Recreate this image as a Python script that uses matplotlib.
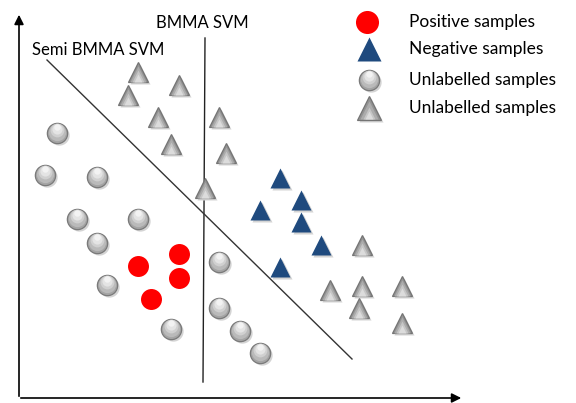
import numpy as np
import matplotlib
matplotlib.use('Agg')
import matplotlib.pyplot as plt

# marker centres in pixel units (y grows downward)
pos_x = [138, 179, 179, 151]
pos_y = [266, 254, 278, 299]

neg_x = [280, 301, 260, 301, 321, 280]
neg_y = [178, 200, 210, 222, 245, 267]

unl_circ_x = [57, 45, 97, 77, 138, 97, 107, 171, 219, 219, 240, 260]
unl_circ_y = [133, 175, 177, 219, 219, 243, 285, 329, 262, 308, 331, 353]

unl_tri_x = [138, 128, 179, 158, 171, 219, 226, 205, 362, 330, 362, 359, 402, 402]
unl_tri_y = [72, 95, 85, 117, 144, 117, 153, 188, 245, 290, 286, 308, 286, 323]

# separating lines (end points)
bmma_x = [205, 203]
bmma_y = [38, 382]
semi_x = [47, 352]
semi_y = [60, 359]

legend_labels = ['Positive samples', 'Negative samples',
                 'Unlabelled samples', 'Unlabelled samples']
legend_y = [22, 49, 80, 108]

plt.rcParams['font.family'] = ['Lato', 'DejaVu Sans']

fig = plt.figure(figsize=(5.76, 4.03), dpi=100)
ax = fig.add_axes([0, 0, 1, 1])
ax.set_xlim(0, 576)
ax.set_ylim(403, 0)
ax.axis('off')

PX = 100 / 72.0  # pixels per point


def shadow(x, y, marker, ms):
    ax.plot(np.array(x) + 1.5, np.array(y) + 2, marker, ms=ms, color='#d4d4d4',
            mec='none', ls='none', zorder=3)


def shiny_circle(x, y, ms):
    # grey ball, light on top, darker at the bottom
    x = np.array(x)
    y = np.array(y)
    shadow(x, y, 'o', ms)
    r = ms * PX / 2
    ax.plot(x, y, 'o', ms=ms, mfc='#a4a4a4', mec='#7a7a7a', mew=0.9, ls='none', zorder=4)
    for k, c in [(0.85, '#bababa'), (0.68, '#d0d0d0'), (0.5, '#e4e4e4'), (0.32, '#f3f3f3')]:
        ax.plot(x, y - r * (1 - k) * 0.85, 'o', ms=ms * k, color=c, mec='none', ls='none', zorder=5)


def shiny_tri(x, y, ms):
    # grey cone, darker at the top, lighter at the base
    x = np.array(x)
    y = np.array(y)
    shadow(x, y, '^', ms)
    h = ms * PX
    ax.plot(x, y, '^', ms=ms, mfc='#939393', mec='#747474', mew=0.9, ls='none', zorder=4)
    for k, c in [(0.78, '#acacac'), (0.56, '#c6c6c6'), (0.36, '#dcdcdc')]:
        ax.plot(x, y + h * (1 - k) / 2 * 0.9, '^', ms=ms * k, color=c, mec='none', ls='none', zorder=5)


ms = 14.6
shiny_circle(unl_circ_x, unl_circ_y, ms)
shiny_tri(unl_tri_x, unl_tri_y, ms)
ax.plot(pos_x, pos_y, 'o', ms=ms + 0.5, color='#ff0000', mec='none', ls='none', zorder=4)
shadow(neg_x, neg_y, '^', ms)
ax.plot(neg_x, neg_y, '^', ms=ms, color='#1f4a7e', mec='none', ls='none', zorder=4)

ax.plot(bmma_x, bmma_y, color='#222222', lw=1, zorder=2)
ax.plot(semi_x, semi_y, color='#333333', lw=1, zorder=2)
ax.text(202, 23, 'BMMA SVM', fontsize=12, ha='center', va='center')
ax.text(32, 50, 'Semi BMMA SVM', fontsize=12, ha='left', va='center')

# axes arrows
ax.annotate('', xy=(19, 12), xytext=(19, 399),
            arrowprops=dict(arrowstyle='-|>', color='black', lw=1.2, mutation_scale=14))
ax.annotate('', xy=(464, 398), xytext=(18, 398),
            arrowprops=dict(arrowstyle='-|>', color='black', lw=1.2, mutation_scale=14))

# legend
ax.plot(367, legend_y[0], 'o', ms=ms + 2, color='#ff0000', mec='none', zorder=4)
ax.plot(369, legend_y[1], '^', ms=ms + 2, color='#1f4a7e', mec='none', zorder=4)
shiny_circle([369], [legend_y[2]], ms)
shiny_tri([369], [legend_y[3]], ms + 2)
for yy, lab in zip(legend_y, legend_labels):
    ax.text(409, yy, lab, fontsize=12.5, ha='left', va='center')

fig.savefig('out.png', dpi=100)
